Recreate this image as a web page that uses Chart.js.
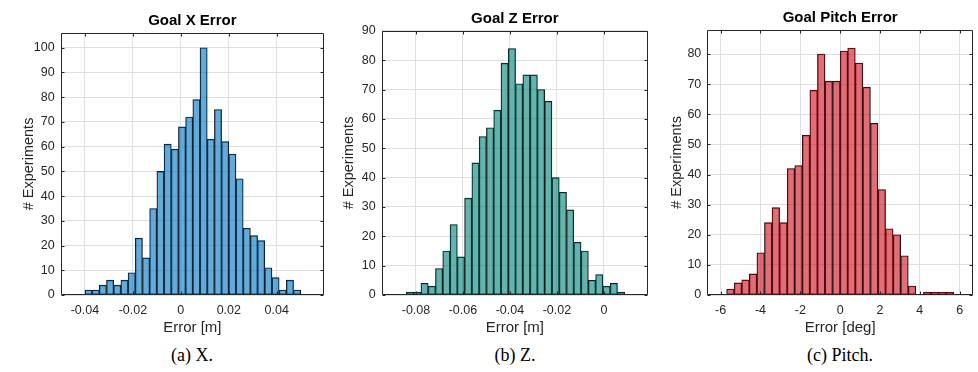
<!DOCTYPE html>
<html>
<head>
<meta charset="utf-8">
<title>Goal errors</title>
<script src="https://cdn.jsdelivr.net/npm/chart.js@4.4.0/dist/chart.umd.min.js"></script>
<style>
    body { margin: 0; background: #fff; width: 978px; height: 372px; position: relative; overflow: hidden; }
    .plot { position: absolute; }
    .caption {
        position: absolute; top: 345px; transform: translateX(-50%);
        font-family: "Liberation Serif", "DejaVu Serif", serif; font-size: 18px;
        line-height: 20px; color: #000; white-space: nowrap;
    }
</style>
</head>
<body>
<div class="plot" style="left:0px;top:8px;width:326px;height:332px"><canvas id="hist-x"></canvas></div>
<div class="plot" style="left:330px;top:6px;width:320px;height:334px"><canvas id="hist-z"></canvas></div>
<div class="plot" style="left:655px;top:5px;width:320px;height:335px"><canvas id="hist-pitch"></canvas></div>
<div class="caption" style="left:192px">(a) X.</div>
<div class="caption" style="left:515px">(b) Z.</div>
<div class="caption" style="left:840px">(c) Pitch.</div>

<script>
// histogram counts, 30 bins each
const xErrCounts = [2, 2, 4, 6, 4, 6, 9, 23, 15, 35, 50, 61, 59, 68, 72, 79, 100, 63, 75, 62, 57, 47, 27, 24, 22, 11, 7, 2, 6, 2];
const zErrCounts = [1, 1, 4, 3, 9, 15, 24, 13, 33, 45, 54, 57, 63, 79, 84, 72, 75, 75, 70, 66, 40, 35, 29, 18, 15, 5, 7, 3, 4, 1];
const pitchErrCounts = [2, 4, 5, 7, 14, 24, 29, 24, 42, 43, 53, 68, 80, 71, 71, 81, 82, 77, 69, 57, 35, 22, 20, 13, 3, 0, 1, 1, 1, 1];

// bin layout (first edge, width)
const xErrBins = [-0.04, 0.003];
const zErrBins = [-0.0841, 0.0031];
const pitchErrBins = [-5.70, 0.38];

// tick labels
const xErrTicks = [-0.04, -0.02, 0, 0.02, 0.04];
const zErrTicks = [-0.08, -0.06, -0.04, -0.02, 0];
const pitchErrTicks = [-6, -4, -2, 0, 2, 4, 6];
const xCountTicks = [0, 10, 20, 30, 40, 50, 60, 70, 80, 90, 100];
const zCountTicks = [0, 10, 20, 30, 40, 50, 60, 70, 80, 90];
const pitchCountTicks = [0, 10, 20, 30, 40, 50, 60, 70, 80];

const FONT = '"Liberation Sans", Arial, Helvetica, sans-serif';
const AXIS_COLOR = '#262626';

// box around the axes with inward tick marks, like matlab
const boxPlugin = {
    id: 'matlabBox',
    afterDatasetsDraw(chart) {
        const { ctx, chartArea: a, scales: { x, y } } = chart;
        const L = Math.round(a.left) + 0.5, R = Math.round(a.right) - 0.5;
        const T = Math.round(a.top) + 0.5, B = Math.round(a.bottom) - 0.5;
        ctx.save();
        ctx.strokeStyle = AXIS_COLOR;
        ctx.lineWidth = 1;
        ctx.beginPath();
        ctx.rect(L, T, R - L, B - T);
        x.ticks.forEach(t => {
            const px = Math.round(x.getPixelForValue(t.value)) + 0.5;
            ctx.moveTo(px, B); ctx.lineTo(px, B - 3);
            ctx.moveTo(px, T); ctx.lineTo(px, T + 3);
        });
        y.ticks.forEach(t => {
            const py = Math.round(y.getPixelForValue(t.value)) + 0.5;
            ctx.moveTo(L, py); ctx.lineTo(L + 3, py);
            ctx.moveTo(R, py); ctx.lineTo(R - 3, py);
        });
        ctx.stroke();
        ctx.restore();
    }
};

function makeHist(id, o) {
    const pts = o.counts.map((c, i) => ({ x: o.bins[0] + o.bins[1] * (i + 0.5), y: c }));
    return new Chart(document.getElementById(id), {
        type: 'bar',
        data: {
            datasets: [{
                data: pts,
                backgroundColor: o.fill,
                borderColor: '#111',
                borderWidth: 0.7,
                borderSkipped: false,
                categoryPercentage: 1.0,
                barPercentage: 1.0
            }]
        },
        options: {
            responsive: true,
            maintainAspectRatio: false,
            animation: false,
            layout: { padding: { left: 0, right: 2, top: 0, bottom: 0 } },
            plugins: {
                legend: { display: false },
                tooltip: { enabled: false },
                title: {
                    display: true,
                    text: o.title,
                    fullSize: false,
                    color: '#000',
                    font: { family: FONT, size: 15, weight: 'bold' },
                    padding: { top: 4, bottom: 2.9 }
                }
            },
            scales: {
                x: {
                    type: 'linear',
                    min: o.xMin,
                    max: o.xMax,
                    offset: false,
                    afterBuildTicks: s => { s.ticks = o.xTicks.map(v => ({ value: v })); },
                    afterFit: s => { s.height = 45; },
                    grid: { color: '#dfdfdf', drawTicks: false, offset: false },
                    border: { display: false },
                    ticks: {
                        color: AXIS_COLOR, padding: 8, maxRotation: 0,
                        font: { family: FONT, size: 12.5 },
                        callback: v => String(+v.toFixed(3))
                    },
                    title: {
                        display: true, text: o.xTitle, color: AXIS_COLOR,
                        font: { family: FONT, size: 15 },
                        padding: { top: 0, bottom: 3.5 }
                    }
                },
                y: {
                    min: 0,
                    max: o.yMax,
                    afterBuildTicks: s => { s.ticks = o.yTicks.map(v => ({ value: v })); },
                    afterFit: s => { s.width = o.yw; },
                    grid: { color: '#dfdfdf', drawTicks: false },
                    border: { display: false },
                    ticks: {
                        color: AXIS_COLOR, padding: 6,
                        font: { family: FONT, size: 12.5 }
                    },
                    title: {
                        display: true, text: '# Experiments', color: AXIS_COLOR,
                        font: { family: FONT, size: 14.5 },
                        padding: { top: o.yTitlePad, bottom: 0 }
                    }
                }
            }
        },
        plugins: [boxPlugin]
    });
}

document.addEventListener('DOMContentLoaded', () => {
    makeHist('hist-x', {
        title: 'Goal X Error', xTitle: 'Error [m]',
        counts: xErrCounts, bins: xErrBins,
        xMin: -0.0501, xMax: 0.0597, xTicks: xErrTicks,
        yMax: 106, yTicks: xCountTicks,
        fill: 'rgba(0, 114, 189, 0.6)', yw: 60.7, yTitlePad: 20
    });
    makeHist('hist-z', {
        title: 'Goal Z Error', xTitle: 'Error [m]',
        counts: zErrCounts, bins: zErrBins,
        xMin: -0.0946, xMax: 0.0188, xTicks: zErrTicks,
        yMax: 90, yTicks: zCountTicks,
        fill: 'rgba(0, 128, 118, 0.6)', yw: 51.7, yTitlePad: 10.2
    });
    makeHist('hist-pitch', {
        title: 'Goal Pitch Error', xTitle: 'Error [deg]',
        counts: pitchErrCounts, bins: pitchErrBins,
        xMin: -6.67, xMax: 6.67, xTicks: pitchErrTicks,
        yMax: 88, yTicks: pitchCountTicks,
        fill: 'rgba(205, 13, 27, 0.6)', yw: 52.3, yTitlePad: 13.2
    });
});
</script>
</body>
</html>
